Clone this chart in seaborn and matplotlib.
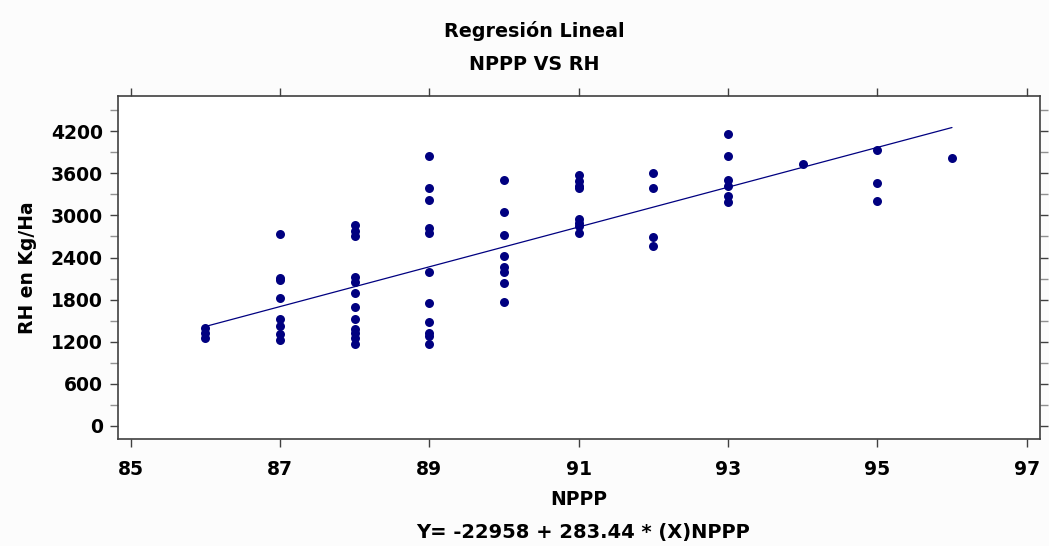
import numpy as np
import pandas as pd
import matplotlib
matplotlib.use("Agg")
import matplotlib.pyplot as plt
import seaborn as sns
from matplotlib.ticker import MultipleLocator

# Data (NPPP vs RH)
nppp_86 = [1400, 1325, 1250]
nppp_87 = [2730, 2105, 2080, 1830, 1525, 1430, 1310, 1225]
nppp_88 = [2870, 2775, 2705, 2120, 2050, 1890, 1690, 1525, 1375, 1325, 1260, 1175]
nppp_89 = [3845, 3395, 3225, 2825, 2750, 2190, 1750, 1480, 1330, 1280, 1165]
nppp_90 = [3500, 3045, 2725, 2415, 2265, 2190, 2035, 1765]
nppp_91 = [3580, 3490, 3420, 3395, 2945, 2890, 2845, 2745]
nppp_92 = [3610, 3395, 2695, 2565]
nppp_93 = [4155, 3845, 3500, 3425, 3270, 3190]
nppp_94 = [3735]
nppp_95 = [3925, 3455, 3210]
nppp_96 = [3815]

groups = {86: nppp_86, 87: nppp_87, 88: nppp_88, 89: nppp_89, 90: nppp_90,
          91: nppp_91, 92: nppp_92, 93: nppp_93, 94: nppp_94, 95: nppp_95,
          96: nppp_96}

# regression from the chart caption
intercept = -22958
slope = 283.44
line_x = [86, 96]

rows = [(x, y) for x, ys in groups.items() for y in ys]
df = pd.DataFrame(rows, columns=["NPPP", "RH"])
line_df = pd.DataFrame({"NPPP": line_x})
line_df["RH"] = intercept + slope * line_df["NPPP"]

sns.set_style("ticks")
plt.rcParams["font.family"] = ["DejaVu Sans"]
plt.rcParams["font.weight"] = "bold"
plt.rcParams["text.color"] = "black"
plt.rcParams["axes.labelcolor"] = "black"
plt.rcParams["xtick.color"] = "black"
plt.rcParams["ytick.color"] = "black"

navy = "#000080"
frame = "#404040"

fig = plt.figure(figsize=(10.49, 5.46), dpi=100, facecolor="#fcfcfc")
ax = fig.add_axes([0.1125, 0.196, 0.879, 0.628])
ax.set_facecolor("white")

sns.scatterplot(data=df, x="NPPP", y="RH", ax=ax, color=navy, s=42,
                edgecolor=navy, linewidth=0, zorder=3)
sns.lineplot(data=line_df, x="NPPP", y="RH", ax=ax, color=navy, lw=0.9,
             zorder=2)

ax.set_xlim(84.83, 97.18)
ax.set_ylim(-185, 4700)
ax.set_xticks([85, 87, 89, 91, 93, 95, 97])
ax.set_yticks(range(0, 4201, 600))
ax.yaxis.set_minor_locator(MultipleLocator(300))

ax.tick_params(axis="both", which="major", direction="out", length=6,
               width=1, color=frame, labelsize=13.5, labelcolor="black",
               top=True, right=True, labeltop=False, labelright=False)
ax.tick_params(axis="y", which="minor", direction="out", length=6,
               width=1, color="#909090", left=True, right=True)
ax.tick_params(axis="x", which="major", pad=9)
ax.tick_params(axis="y", which="major", pad=5)
for lab in ax.get_xticklabels() + ax.get_yticklabels():
    lab.set_fontweight("bold")

for sp in ax.spines.values():
    sp.set_color(frame)
    sp.set_linewidth(1.2)

ax.set_xlabel("NPPP", fontsize=13.5, fontweight="bold", labelpad=8)
ax.set_ylabel("RH en Kg/Ha", fontsize=13.5, fontweight="bold", labelpad=10)

fig.text(0.509, 0.943, "Regresión Lineal", ha="center", va="center",
         fontsize=13.8, fontweight="bold")
fig.text(0.509, 0.881, "NPPP VS RH", ha="center", va="center",
         fontsize=13.8, fontweight="bold")
fig.text(0.556, 0.024, "Y= -22958 + 283.44 * (X)NPPP", ha="center",
         va="center", fontsize=14, fontweight="bold")

fig.savefig("out.png", dpi=100, facecolor=fig.get_facecolor())
